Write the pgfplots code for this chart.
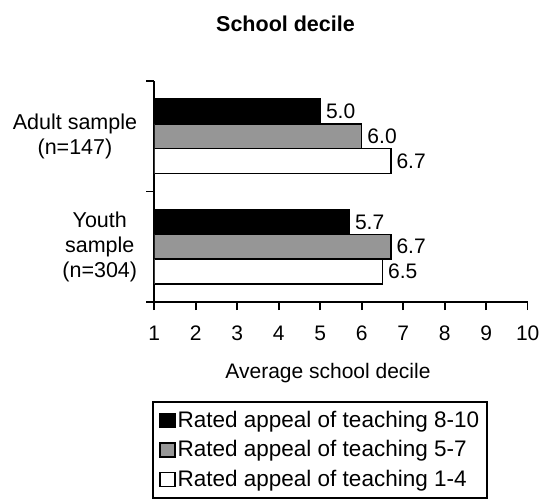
\documentclass[border=0pt]{standalone}
\usepackage{pgfplots}
\pgfplotsset{compat=1.18}
\usepackage{fontspec}
\setmainfont{Liberation Sans}
\definecolor{barGray}{RGB}{150,150,150}
\begin{document}
\fontsize{21pt}{25pt}\selectfont
\begin{tikzpicture}
\begin{axis}[
  at={(0,0)}, anchor=south west,
  scale only axis, width=373.4pt, height=221pt,
  xbar,
  xmin=1, xmax=10, xtick={1,...,10},
  ymin=-0.5, ymax=1.5,
  ytick={-0.5,0.5,1.5}, yticklabels={},
  extra y ticks={0,1},
  extra y tick labels={{Youth\\sample\\(n=304)},{Adult sample\\(n=147)}},
  extra y tick style={major tick length=0pt, yticklabel style={align=center, xshift=-10pt, font=\fontsize{21.5pt}{25pt}\selectfont}},
  axis x line*=bottom, axis y line*=left,
  axis line style={line width=1.6pt},
  tick style={line width=1.6pt, black},
  tick align=outside,
  major tick length=8pt,
  /pgf/number format/assume math mode=true,
  tick label style={font=\fontsize{21pt}{25pt}\selectfont, black},
  xticklabel style={yshift=-9pt},
  xlabel={Average school decile},
  xlabel style={font=\fontsize{21pt}{25pt}\selectfont, xshift=-13pt, yshift=-8pt},
  bar width=0.225,
  point meta=x,
  nodes near coords={\pgfmathprintnumber[fixed,fixed zerofill,precision=1,assume math mode=true]{\pgfplotspointmeta}},
  every node near coord/.append style={font=\fontsize{21pt}{25pt}\selectfont, black, anchor=west, inner xsep=5pt},
  legend style={at={(-0.006,-0.448)}, anchor=north west, draw=black, line width=1.6pt,
    font=\fontsize{22.5pt}{27pt}\selectfont, row sep=6pt, inner xsep=6pt, inner ysep=7pt,
    cells={anchor=west}},
  legend image code/.code={\draw[#1, line width=1.8pt] (0pt,-7pt) rectangle (15pt,7pt);},
]
\addplot[fill=black, draw=black, line width=1.5pt, bar shift=0.225] coordinates {(5.0,1) (5.7,0)};
\addplot[fill=barGray, draw=black, line width=1.5pt, bar shift=0] coordinates {(6.0,1) (6.7,0)};
\addplot[fill=white, draw=black, line width=1.5pt, bar shift=-0.225] coordinates {(6.7,1) (6.5,0)};
\legend{Rated appeal of teaching 8-10, Rated appeal of teaching 5-7, Rated appeal of teaching 1-4}
\end{axis}
\node[font=\bfseries\fontsize{21.5pt}{25pt}\selectfont] at (131.2pt,278.5pt) {School decile};
\pgfresetboundingbox
\useasboundingbox (-154.3pt,-201pt) rectangle (387.7pt,302pt);
\end{tikzpicture}
\end{document}
